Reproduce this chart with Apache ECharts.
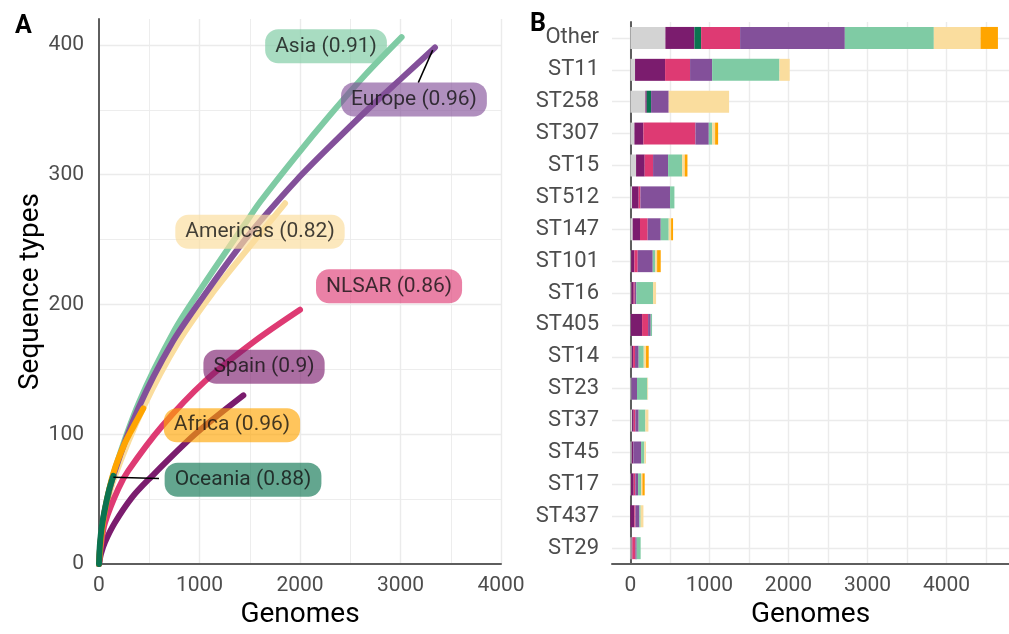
<!DOCTYPE html>
<html><head><meta charset="utf-8">
<script src="https://cdn.jsdelivr.net/npm/echarts@6/dist/echarts.min.js"></script>
<style>html,body{margin:0;padding:0;background:#fff}#c{width:1009px;height:634px}</style>
</head><body><div id="c"></div><script>
// ---------- Panel A: rarefaction curves ----------
const asiaX = [0, 20, 60, 150, 400, 750, 1022, 1469, 1602, 1967, 2299, 2650, 3011];
const asiaY = [0, 20, 42, 71, 125, 180, 213, 264, 279, 315, 346, 377, 406];
const europeX = [0, 20, 60, 150, 391, 723, 1055, 1403, 1635, 1967, 2299, 2697, 3020, 3343];
const europeY = [0, 21, 42, 70, 120, 170, 208, 245, 267, 296, 322, 352, 375, 398];
const americasX = [0, 20, 60, 150, 450, 789, 1121, 1502, 1851];
const americasY = [0, 19, 39, 66, 122, 171, 208, 245, 278];
const nlsarX = [0, 20, 60, 192, 292, 624, 1055, 1552, 2000];
const nlsarY = [0, 15, 32, 58, 72, 106, 141, 172, 196];
const spainX = [0, 20, 60, 159, 325, 491, 955, 1436];
const spainY = [0, 8, 17, 32, 51, 65, 100, 130];
const africaX = [0, 20, 60, 143, 250, 350, 441];
const africaY = [0, 20, 42, 70, 92, 107, 120];
const oceaniaX = [0, 10, 30, 60, 100, 143];
const oceaniaY = [0, 16, 30, 43, 57, 68];

const curveNames = ['Asia', 'Americas', 'Europe', 'Spain', 'NLSAR', 'Africa', 'Oceania'];
const curveColors = ['#7FCBA4', '#FADD9E', '#83509A', '#7B1C6E', '#DE3A73', '#FFA500', '#0B7350'];

// curve labels (text, anchor position in data units, fill)
const labelTexts = ['Asia (0.91)', 'Europe (0.96)', 'Americas (0.82)', 'NLSAR (0.86)', 'Spain (0.9)', 'Africa (0.96)', 'Oceania (0.88)'];
const labelX = [2259, 3134, 1602, 2886, 1642, 1323, 1433];
const labelY = [399, 358, 256, 214, 152, 107, 65];
const labelFill = ['rgba(127,203,164,0.85)', 'rgba(131,80,154,0.8)', 'rgba(250,221,158,0.85)', 'rgba(222,58,115,0.8)', 'rgba(123,28,110,0.8)', 'rgba(255,165,0,0.8)', 'rgba(11,115,80,0.8)'];
// leader segments
const europeLeader = [[3320, 396], [3177, 371]];
const oceaniaLeader = [[143, 67], [597, 66]];

// gridlines
const aMajorX = [1000, 2000, 3000, 4000];
const aMinorX = [500, 1500, 2500, 3500];
const aMajorY = [100, 200, 300, 400];
const aMinorY = [50, 150, 250, 350];

// ---------- Panel B: stacked bars ----------
const categories = ['Other', 'ST11', 'ST258', 'ST307', 'ST15', 'ST512', 'ST147', 'ST101', 'ST16', 'ST405', 'ST14', 'ST23', 'ST37', 'ST45', 'ST17', 'ST437', 'ST29'];
const unknownVals  = [443, 59, 190, 51, 72, 21, 29, 10, 13, 5, 17, 13, 21, 17, 8, 0, 17];
const spainVals    = [367, 380, 17, 114, 109, 84, 93, 41, 29, 143, 17, 0, 21, 21, 34, 51, 8];
const oceaniaVals  = [85, 0, 55, 0, 0, 0, 0, 0, 0, 0, 0, 0, 0, 0, 0, 0, 0];
const nlsarVals    = [493, 316, 0, 658, 106, 22, 97, 42, 13, 76, 25, 0, 21, 0, 21, 12, 38];
const europeVals   = [1325, 279, 223, 169, 190, 375, 165, 190, 21, 33, 46, 71, 42, 97, 34, 51, 17];
const asiaVals     = [1126, 852, 0, 42, 177, 55, 101, 33, 211, 17, 64, 131, 85, 42, 38, 16, 50];
const americasVals = [591, 130, 764, 38, 34, 0, 30, 22, 38, 0, 29, 9, 38, 21, 17, 35, 0];
const africaVals   = [220, 0, 0, 38, 34, 0, 25, 46, 0, 0, 34, 0, 0, 0, 29, 0, 0];
const bGridX = [0, 500, 1000, 1500, 2000, 2500, 3000, 3500, 4000, 4500];

const barSeriesDefs = [
  ['Unknown', unknownVals, '#D3D3D3'],
  ['Spain', spainVals, '#7B1C6E'],
  ['Oceania', oceaniaVals, '#0B7350'],
  ['NLSAR', nlsarVals, '#DE3A73'],
  ['Europe', europeVals, '#83509A'],
  ['Asia', asiaVals, '#7FCBA4'],
  ['Americas', americasVals, '#FADD9E'],
  ['Africa', africaVals, '#FFA500']
];

const FONT = 'Roboto';
const GRID = '#EBEBEB';
const AXIS = '#5E5E5E';

function zip(xs, ys) { return xs.map((x, i) => [x, ys[i]]); }
const curveData = {
  Asia: zip(asiaX, asiaY), Americas: zip(americasX, americasY), Europe: zip(europeX, europeY),
  Spain: zip(spainX, spainY), NLSAR: zip(nlsarX, nlsarY), Africa: zip(africaX, africaY), Oceania: zip(oceaniaX, oceaniaY)
};

const markCommon = { silent: true, z: 0, symbol: ['none', 'none'], label: { show: false }, animation: false, emphasis: { disabled: true } };

const series = [];
// panel A gridlines
series.push({
  type: 'line', xAxisIndex: 0, yAxisIndex: 0, data: [], z: 0,
  markLine: Object.assign({}, markCommon, {
    data: [].concat(
      aMajorX.map(v => ({ xAxis: v, lineStyle: { color: GRID, width: 1.4, type: 'solid' } })),
      aMinorX.map(v => ({ xAxis: v, lineStyle: { color: GRID, width: 0.9, type: 'solid' } })),
      aMajorY.map(v => ({ yAxis: v, lineStyle: { color: GRID, width: 1.4, type: 'solid' } })),
      aMinorY.map(v => ({ yAxis: v, lineStyle: { color: GRID, width: 0.9, type: 'solid' } }))
    )
  })
});
// curves
curveNames.forEach((n, i) => {
  series.push({
    name: n, type: 'line', xAxisIndex: 0, yAxisIndex: 0, z: 3 + i,
    data: curveData[n], smooth: 0.3, showSymbol: false, symbol: 'none',
    lineStyle: { color: curveColors[i], width: 6, cap: 'round', join: 'round' }
  });
});
// leaders
[europeLeader, oceaniaLeader].forEach(seg => {
  series.push({
    type: 'line', xAxisIndex: 0, yAxisIndex: 0, z: 11, data: seg, symbol: 'none',
    lineStyle: { color: '#000', width: 1.5 }
  });
});
// curve labels
series.push({
  type: 'scatter', xAxisIndex: 0, yAxisIndex: 0, z: 12, symbolSize: 1,
  itemStyle: { color: 'rgba(0,0,0,0)' },
  data: labelTexts.map((t, i) => ({
    value: [labelX[i], labelY[i]], name: t,
    label: {
      show: true, position: 'inside', formatter: t, fontFamily: FONT, fontSize: 21,
      color: '#111', backgroundColor: labelFill[i], borderRadius: 13,
      padding: [5, 10, 4, 10], lineHeight: 25
    }
  }))
});
// panel B gridlines
series.push({
  type: 'line', xAxisIndex: 1, yAxisIndex: 1, data: [], z: 0,
  markLine: Object.assign({}, markCommon, {
    data: [].concat(
      bGridX.map(v => ({ xAxis: v, lineStyle: { color: GRID, width: 1.4, type: 'solid' } })),
      categories.map(c => ({ yAxis: c, lineStyle: { color: GRID, width: 1.4, type: 'solid' } }))
    )
  })
});
// stacked bars (zero segments left empty)
barSeriesDefs.forEach(([n, vals, col]) => {
  series.push({
    name: n, type: 'bar', stack: 'st', xAxisIndex: 1, yAxisIndex: 1, z: 2,
    barWidth: 22, data: vals.map(v => (v > 0 ? v : '-')),
    itemStyle: { color: col, borderWidth: 0, borderRadius: 0 }
  });
});

const chart = echarts.init(document.getElementById('c'), null, { renderer: 'canvas' });
chart.setOption({
  animation: false,
  backgroundColor: '#fff',
  textStyle: { fontFamily: FONT },
  title: [
    { text: 'A', left: 10, top: 9, textStyle: { fontFamily: FONT, fontSize: 25, fontWeight: 'bold', color: '#000' } },
    { text: 'B', left: 525, top: 7, textStyle: { fontFamily: FONT, fontSize: 25, fontWeight: 'bold', color: '#000' } }
  ],
  grid: [
    { left: 99, right: 508, top: 19, bottom: 61 },
    { left: 612, right: 0, top: 22, bottom: 62 }
  ],
  xAxis: [
    {
      gridIndex: 0, type: 'value', min: 0, max: 4000, interval: 1000,
      axisLine: { show: true, lineStyle: { color: AXIS, width: 2 } },
      axisTick: { show: false }, splitLine: { show: false },
      axisLabel: { fontFamily: FONT, fontSize: 21, color: '#4D4D4D', margin: 11, formatter: v => String(v) },
      name: 'Genomes', nameLocation: 'middle', nameGap: 31,
      nameTextStyle: { fontFamily: FONT, fontSize: 28, color: '#000' }
    },
    {
      gridIndex: 1, type: 'value', min: -232.5, max: 4790, minInterval: 1000, maxInterval: 1000,
      axisLine: { show: true, lineStyle: { color: AXIS, width: 2 } },
      axisTick: { show: false }, splitLine: { show: false },
      axisLabel: {
        fontFamily: FONT, fontSize: 21, color: '#4D4D4D', margin: 11,
        showMinLabel: false, showMaxLabel: false,
        formatter: v => (v >= 0 && v % 1000 === 0) ? String(v) : ''
      },
      name: 'Genomes', nameLocation: 'middle', nameGap: 31,
      nameTextStyle: { fontFamily: FONT, fontSize: 28, color: '#000' }
    }
  ],
  yAxis: [
    {
      gridIndex: 0, type: 'value', min: 0, max: 420, interval: 100,
      axisLine: { show: true, lineStyle: { color: AXIS, width: 2 } },
      axisTick: { show: false }, splitLine: { show: false },
      axisLabel: { fontFamily: FONT, fontSize: 21, color: '#4D4D4D', margin: 15, showMaxLabel: false, formatter: v => String(v) },
      name: 'Sequence types', nameLocation: 'middle', nameGap: 54, nameRotate: 90,
      nameTextStyle: { fontFamily: FONT, fontSize: 28, color: '#000' }
    },
    {
      gridIndex: 1, type: 'category', data: categories, inverse: true,
      axisLine: { show: true, lineStyle: { color: AXIS, width: 2 } },
      axisTick: { show: false }, splitLine: { show: false },
      axisLabel: { fontFamily: FONT, fontSize: 22, color: '#4D4D4D', margin: 13, interval: 0 }
    }
  ],
  series: series
});
</script></body></html>
